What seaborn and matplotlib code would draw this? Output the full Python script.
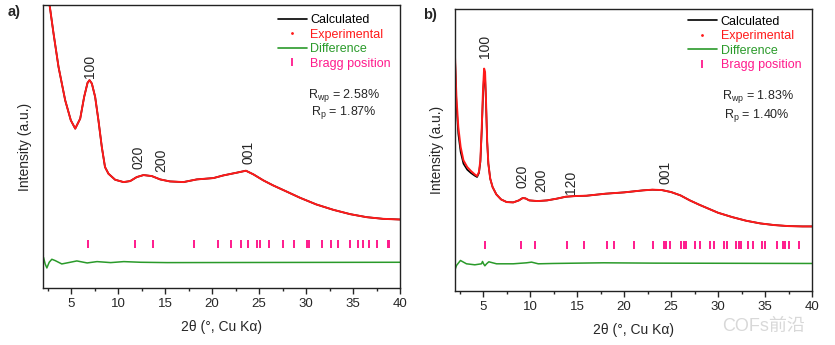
import numpy as np
import pandas as pd
import seaborn as sns
import matplotlib
matplotlib.use("Agg")
import matplotlib.pyplot as plt
from matplotlib.lines import Line2D

sns.set_style("white")
plt.rcParams['font.family'] = ['Liberation Sans', 'DejaVu Sans']
plt.rcParams['mathtext.fontset'] = 'custom'
plt.rcParams['mathtext.rm'] = 'Liberation Sans'
plt.rcParams['mathtext.it'] = 'Liberation Sans:italic'

# ---------------- Panel a data ----------------
a_x = [2.5, 2.7, 3.12, 3.65, 4.36, 4.96, 5.43, 5.96, 6.38, 6.74, 6.95, 7.2, 7.55, 7.9,
       8.26, 8.6, 8.97, 9.68, 10.57, 11.28, 11.98, 12.7, 13.58, 14.47, 15.5, 16.95,
       18.37, 20.14, 21.2, 22.6, 23.6, 24.4, 25.46, 26.5, 27.9, 29.36, 31.1, 32.9,
       34.7, 36.45, 38.2, 40.0]
a_exp = [980, 847, 762, 662, 562, 502, 477, 507, 572, 614, 622, 612, 572, 502,
         422, 362, 342, 324, 317, 320, 332, 338, 335, 325, 319, 317,
         325, 329, 337, 345, 351, 340, 322, 307, 289, 270, 250, 234,
         221, 212, 207, 205]
a_calc = a_exp
a_diff_x = [2.05, 2.23, 2.41, 2.66, 2.94, 3.3, 4.0, 4.9, 5.6, 6.7, 7.75, 9.2, 10.6, 12.4, 15.2, 40.0]
a_diff = [92, 72, 60, 77, 86, 82, 72, 77, 81, 75, 79, 76, 79, 77, 76, 77]
a_bragg = [6.84, 11.84, 13.69, 18.12, 20.60, 22.02, 23.08, 23.83, 24.79, 25.07, 26.03,
           27.55, 28.69, 30.07, 30.28, 31.67, 32.66, 33.40, 34.64, 35.57, 36.03,
           36.74, 37.59, 38.69, 38.86]
a_peaks = ["100", "020", "200", "001"]
a_peak_x = [6.95, 12.16, 14.64, 23.9]
a_peak_y = [630, 357, 347, 372]
a_rwp = "2.58%"
a_rp = "1.87%"

# ---------------- Panel b data ----------------
b_x = [2.0, 2.15, 2.35, 2.6, 2.9, 3.3, 3.7, 4.1, 4.35, 4.55, 4.7, 4.85, 4.98, 5.1,
       5.2, 5.3, 5.42, 5.55, 5.75, 6.0, 6.4, 6.9, 7.5, 8.2, 8.8, 9.2, 9.5, 9.9,
       10.8, 11.8, 12.8, 13.8, 14.8, 16.0, 17.0, 18.0, 19.0, 20.0, 21.0, 22.0,
       23.0, 24.0, 25.0, 26.0, 27.0, 28.0, 29.0, 30.0, 31.5, 33.0, 34.5, 36.0,
       37.5, 39.0, 40.0]
b_exp = [700, 580, 490, 430, 390, 370, 358, 348, 343, 355, 390, 490, 600, 665,
         655, 570, 450, 380, 335, 310, 288, 273, 265, 264, 270, 277, 276, 270,
         268, 270, 275, 281, 283, 284, 287, 290, 292, 294, 297, 300,
         302, 301, 295, 285, 270, 257, 245, 233, 220, 209, 201, 196,
         193, 192, 192]
b_calc = [700, 560, 470, 415, 380, 362, 352, 344, 340, 352, 385, 480, 585, 645,
          640, 565, 448, 380, 335, 310, 288, 273, 265, 264, 270, 277, 276, 270,
          268, 270, 275, 281, 283, 284, 287, 290, 292, 294, 297, 300,
          302, 301, 295, 285, 270, 257, 245, 233, 220, 209, 201, 196,
          193, 192, 192]
b_diff_x = [2.0, 2.16, 2.58, 3.22, 4.11, 4.82, 4.93, 5.04, 5.18, 5.36, 5.6, 6.42, 8.2,
            9.62, 10.15, 10.86, 12.46, 17.8, 23.1, 40.0]
b_diff = [62, 75, 90, 80, 77, 80, 87, 80, 74, 80, 86, 80, 80, 83, 85, 80, 81, 83, 82, 81]
b_bragg = [5.18, 9.05, 10.48, 13.89, 15.77, 18.22, 18.96, 21.09, 23.05, 24.22, 24.44,
           24.93, 26.03, 26.39, 26.6, 27.53, 28.06, 29.16, 29.52, 30.58, 30.94,
           31.9, 32.25, 32.46, 33.18, 33.71, 34.63, 34.95, 36.3, 36.94, 37.15,
           37.5, 38.65]
b_peaks = ["100", "020", "200", "120", "001"]
b_peak_x = [5.18, 9.16, 11.2, 14.4, 24.36]
b_peak_y = [697, 308, 295, 290, 320]
b_rwp = "1.83%"
b_rp = "1.40%"

legend_labels = ["Calculated", "Experimental", "Difference", "Bragg position"]

RED = "#ff1a1a"
GREEN = "#2a9a2a"
PINK = "#ff1a8c"

fig = plt.figure(figsize=(8.35, 3.45), dpi=100)
ax_a = fig.add_axes([43/835, 1-288/345, 357/835, 283/345])
ax_b = fig.add_axes([455/835, 1-290.5/345, 357/835, 282/345])


def draw(ax, x, calc, exp, dx, diff, bragg, bragg_y, ymax, peaks, px, py,
         rwp, rp, leg_anchor, r_pos):
    sns.lineplot(x=x, y=calc, ax=ax, color="black", lw=1.2, sort=False, estimator=None)
    sns.lineplot(x=x, y=exp, ax=ax, color=RED, lw=1.4, sort=False, estimator=None)
    sns.lineplot(x=dx, y=diff, ax=ax, color=GREEN, lw=1.1, sort=False, estimator=None)
    ax.plot(bragg, [bragg_y] * len(bragg), ls="none", marker="|", ms=5.5,
            mew=1.4, color=PINK)
    ax.set_xlim(2, 40)
    ax.set_ylim(0, ymax)
    ax.set_xticks(np.arange(5, 41, 5))
    ax.set_xticks(np.arange(2.5, 40, 5), minor=True)
    ax.set_yticks([])
    ax.tick_params(axis="x", which="major", direction="out", length=4, width=1,
                   labelsize=9.5, pad=3.5, bottom=True)
    ax.tick_params(axis="x", which="minor", direction="out", length=2.5, width=1,
                   bottom=True)
    for s in ax.spines.values():
        s.set_color("#222222")
        s.set_linewidth(1.0)
    ax.set_xlabel("2θ (°, Cu Kα)", fontsize=10, labelpad=7)
    ax.set_ylabel("Intensity (a.u.)", fontsize=10, labelpad=8)
    for t, xx, yy in zip(peaks, px, py):
        ax.text(xx, yy, t, rotation=90, ha="center", va="bottom", fontsize=10)
    handles = [
        Line2D([], [], color="black", lw=1.2),
        Line2D([], [], color=RED, ls="none", marker=".", ms=2),
        Line2D([], [], color=GREEN, lw=1.2),
        Line2D([], [], color=PINK, ls="none", marker="|", ms=6, mew=1.3),
    ]
    ax.legend(handles, legend_labels, loc="upper left", bbox_to_anchor=leg_anchor,
              frameon=False, borderpad=0, borderaxespad=0, handlelength=2.3,
              handletextpad=0.3, labelspacing=0.2, fontsize=9,
              labelcolor=["black", RED, GREEN, PINK])
    ax.text(r_pos[0], r_pos[1], "R$_\\mathrm{wp}$ = " + rwp, transform=ax.transAxes,
            fontsize=9, va="center", ha="left")
    ax.text(r_pos[2], r_pos[3], "R$_\\mathrm{p}$ = " + rp, transform=ax.transAxes,
            fontsize=9, va="center", ha="left")


draw(ax_a, a_x, a_calc, a_exp, a_diff_x, a_diff, a_bragg, 132, 847,
     a_peaks, a_peak_x, a_peak_y, a_rwp, a_rp, (0.658, 0.968),
     (0.742, 0.68, 0.751, 0.62))
draw(ax_b, b_x, b_calc, b_exp, b_diff_x, b_diff, b_bragg, 135, 845,
     b_peaks, b_peak_x, b_peak_y, b_rwp, b_rp, (0.653, 0.975),
     (0.748, 0.688, 0.753, 0.62))

fig.text(8/835, 1-12/345, "a)", fontsize=10.5, fontweight="bold", va="center", ha="left")
fig.text(423/835, 1-15/345, "b)", fontsize=10.5, fontweight="bold", va="center", ha="left")
fig.text(722/835, 1-326/345, "COFs前沿", fontsize=13, color="#cfcfcf", alpha=0.8,
         va="center", ha="left", family=["Liberation Sans", "Noto Sans CJK SC"])

fig.savefig("out.png", dpi=100)
